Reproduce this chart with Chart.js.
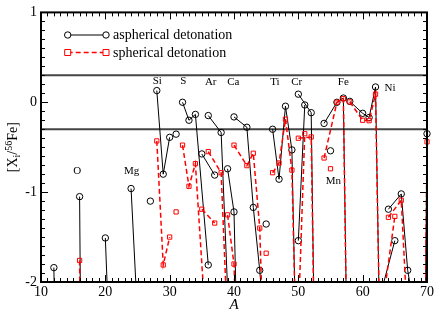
<!DOCTYPE html>
<html><head><meta charset="utf-8">
<script src="https://cdn.jsdelivr.net/npm/chart.js@4.4.0/dist/chart.umd.min.js"></script>
<style>html,body{margin:0;padding:0;background:#fff;}canvas{display:block;}</style>
</head><body>
<canvas id="c" width="436" height="311"></canvas>
<script>
// mass numbers (null = break between isotope chains of different elements)
const asphericalA = [12,13,null, 16,17,null, 20,21,null, 24,25,null, 27,null, 28,29,30,null, 31,null,
  32,33,34,36,null, 35,37,null, 36,38,40,null, 39,40,41,null, 40,42,43,44,46,null, 45,null,
  46,47,48,49,50,null, 50,51,null, 50,52,53,null, 55,null, 54,56,57,58,null, 58,60,61,62,64,null,
  63,65,null, 64,66,67,68,null, 69,70];
const asphericalValues = [-1.84,-6,null, -1.05,-10,null, -1.51,-3.36,null, -0.96,-2.38,null, -1.10,null, 0.13,-0.80,-0.39,null, -0.355,null,
  0.00,-0.20,-0.135,-1.81,null, -0.575,-0.81,null, -0.148,-0.336,-3.8,null, -0.74,-1.22,-4.2,null, -0.163,-0.278,-1.17,-1.87,-3.6,null, -1.355,null,
  -0.30,-0.856,-0.044,-0.53,-4.0,null, -1.54,-0.03,null, 0.09,-0.116,-5.3,null, -0.54,null, -0.235,0.0,0.047,-4.9,null, 0.01,-0.123,-0.17,0.17,-8.3,null,
  -2.08,-1.54,null, -1.19,-1.02,-1.87,-2.3,null, -8,-0.35];
const sphericalA = [16,17,null, 28,29,30,null, 31,null,
  32,33,34,36,null, 35,37,null, 36,38,40,null, 39,40,41,null, 40,42,43,44,46,null, 45,null,
  46,47,48,49,50,null, 50,51,null, 50,52,53,null, 55,null, 54,56,57,58,null, 58,60,61,62,64,null,
  63,65,null, 64,66,67,null, 69,70];
const sphericalValues = [-1.76,-10,null, -0.43,-1.81,-1.50,null, -1.22,null,
  -0.477,-0.935,-0.683,-2.91,null, -1.19,-1.344,null, -0.549,-0.784,-4.26,null, -1.253,-1.80,-4.0,null, -0.477,-0.705,-0.567,-1.40,-6.1,null, -1.68,null,
  -0.784,-0.676,-0.188,-0.755,-3.75,null, -2.4,-0.35,null, -0.40,-0.386,-5,null, -0.74,null, -0.62,0.0,0.04,-5,null, 0.004,-0.20,-0.205,0.09,-8,null,
  -2.31,-1.27,null, -1.28,-1.09,-2.5,null, -8,-0.44];
const referenceLevels = [0.3, -0.3];
const elementNames = ['O','Mg','Si','S','Ar','Ca','Ti','Cr','Fe','Ni','Mn'];
const elementA =     [15.64, 24.1, 28.08, 32.12, 36.38, 39.9, 46.37, 49.75, 57.0, 64.25, 55.44];
const elementY =     [-0.765,-0.765,0.234,0.234,0.227,0.227,0.22,0.227,0.227,0.155,-0.874];

const SERIF = "'Liberation Serif','Times New Roman',serif";

function toPoints(A, V){
  const out=[]; let last=A[0];
  for(let i=0;i<A.length;i++){
    if(A[i]===null){ out.push({x:last,y:null}); }
    else { out.push({x:A[i],y:V[i]}); last=A[i]; }
  }
  return out;
}

const decor = {
  id:'decor',
  afterDraw(chart){
    const {ctx, chartArea:a, scales:{x,y}} = chart;
    ctx.save();
    // element labels
    ctx.fillStyle='#000';
    ctx.font = '11px '+SERIF;
    ctx.textAlign='center'; ctx.textBaseline='middle';
    elementNames.forEach((n,i)=>{
      ctx.fillText(n, x.getPixelForValue(elementA[i]), y.getPixelForValue(elementY[i]));
    });
    // ticks
    ctx.strokeStyle='#000'; ctx.lineWidth=1;
    ctx.beginPath();
    for(let v=10; v<=70; v++){
      const px=Math.round(x.getPixelForValue(v))+0.5; const L=(v%10===0)?7:4;
      ctx.moveTo(px,a.bottom); ctx.lineTo(px,a.bottom-L);
      ctx.moveTo(px,a.top); ctx.lineTo(px,a.top+L);
    }
    for(let i=-20;i<=10;i++){
      const py=Math.round(y.getPixelForValue(i/10))+0.5; const L=(i%10===0)?7:4;
      ctx.moveTo(a.left,py); ctx.lineTo(a.left+L,py);
      ctx.moveTo(a.right,py); ctx.lineTo(a.right-L,py);
    }
    ctx.stroke();
    // frame
    ctx.lineWidth=2;
    ctx.strokeRect(a.left,a.top,a.right-a.left,a.bottom-a.top);
    // legend
    const ds = chart.data.datasets;
    const rows = [{d:ds[1], y:35, style:'circle'}, {d:ds[0], y:52.5, style:'rect'}];
    const x1=67.7, x2=106;
    rows.forEach(r=>{
      ctx.strokeStyle=r.d.borderColor; ctx.lineWidth=r.d.borderWidth;
      ctx.setLineDash(r.d.borderDash||[]);
      ctx.beginPath(); ctx.moveTo(x1,r.y); ctx.lineTo(x2,r.y); ctx.stroke();
      ctx.setLineDash([]); ctx.lineWidth=1;
      [x1,x2].forEach(px=>{
        ctx.beginPath();
        if(r.style==='circle'){ ctx.arc(px,r.y,3.2,0,Math.PI*2); }
        else { ctx.rect(px-3,r.y-3,6,6); }
        ctx.fillStyle='#fff'; ctx.fill(); ctx.stroke();
      });
      ctx.fillStyle='#000'; ctx.font='14px '+SERIF; ctx.textAlign='left'; ctx.textBaseline='middle';
      ctx.fillText(r.d.label, 113, r.y+0.5);
    });
    // x title
    ctx.font='italic 15px '+SERIF; ctx.textAlign='center'; ctx.textBaseline='middle';
    ctx.fillText('A', (a.left+a.right)/2, 305);
    // y title
    const big='14px '+SERIF, small='10px '+SERIF;
    const parts=[['[X',big,0],['i',small,3],['/',big,0],['56',small,-5],['Fe]',big,0]];
    let tw=0; parts.forEach(p=>{ctx.font=p[1]; tw+=ctx.measureText(p[0]).width;});
    ctx.translate(17,(a.top+a.bottom)/2); ctx.rotate(-Math.PI/2);
    ctx.textAlign='left'; ctx.textBaseline='alphabetic';
    let cx=-tw/2;
    parts.forEach(p=>{ctx.font=p[1]; ctx.fillText(p[0],cx,p[2]); cx+=ctx.measureText(p[0]).width;});
    ctx.restore();
  }
};

new Chart(document.getElementById('c'), {
  type:'line',
  data:{datasets:[
    {label:'spherical detonation', data:toPoints(sphericalA,sphericalValues), borderColor:'#ff0000', borderWidth:1.5,
     borderDash:[5,3], pointStyle:'rect', pointRadius:3, pointBorderColor:'#ff0000', pointBackgroundColor:'rgba(0,0,0,0)',
     pointBorderWidth:1, spanGaps:false, tension:0, order:0, clip:{left:6,right:6,top:6,bottom:0}},
    {label:'aspherical detonation', data:toPoints(asphericalA,asphericalValues), borderColor:'#000000', borderWidth:1,
     pointStyle:'circle', pointRadius:3.2, pointBorderColor:'#000', pointBackgroundColor:'rgba(0,0,0,0)',
     pointBorderWidth:1, spanGaps:false, tension:0, order:1, clip:{left:6,right:6,top:6,bottom:0}},
    ...referenceLevels.map(v=>({label:'ref', data:[{x:10,y:v},{x:70,y:v}], borderColor:'#444', borderWidth:2,
      pointRadius:0, order:2}))
  ]},
  options:{
    responsive:false, animation:false, devicePixelRatio:1,
    layout:{padding:{top:5,right:9,left:0,bottom:0}},
    plugins:{legend:{display:false}, tooltip:{enabled:false}},
    scales:{
      x:{type:'linear', min:10, max:70,
        ticks:{stepSize:10, color:'#000', font:{family:SERIF,size:14}, padding:2, maxRotation:0, autoSkip:false},
        grid:{display:false, drawTicks:false}, border:{display:false},
        afterFit:s=>{s.height=29;}},
      y:{type:'linear', min:-2, max:1,
        ticks:{stepSize:1, color:'#000', font:{family:SERIF,size:14}, padding:4},
        grid:{display:false, drawTicks:false}, border:{display:false},
        afterFit:s=>{s.width=41;}}
    }
  },
  plugins:[decor]
});
</script>
</body></html>
